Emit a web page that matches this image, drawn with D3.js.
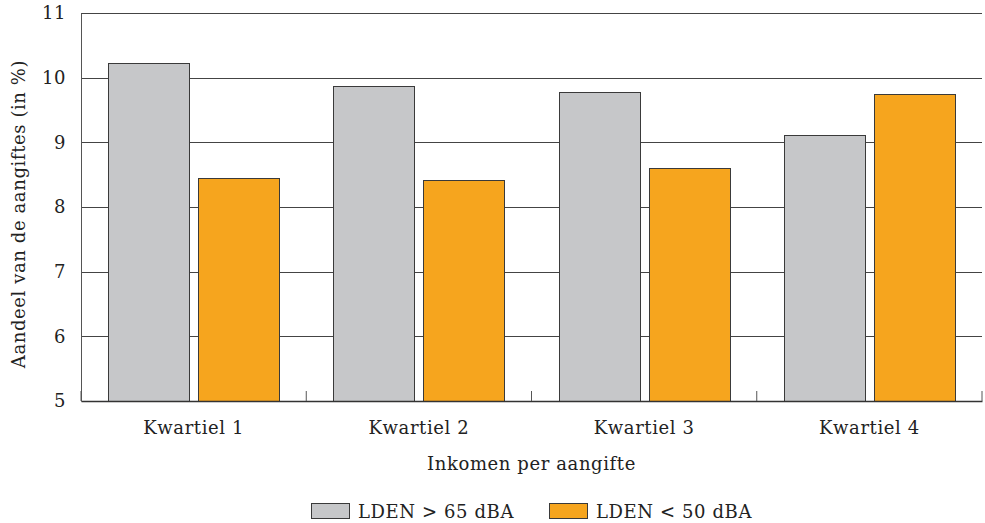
<!DOCTYPE html>
<html>
<head>
    <meta charset="utf-8">
    <style>
        body { margin: 0; background: #fff; }
        svg text { font-family: "DejaVu Serif", serif; fill: #222; letter-spacing: 0.6px; }
        .grid line { stroke: #444; stroke-width: 1px; shape-rendering: crispEdges; }
        .bar { stroke: #3a3a3a; stroke-width: 1px; shape-rendering: crispEdges; }
    </style>
</head>
<body>
    <svg width="985" height="523"></svg>

    <script src="https://d3js.org/d3.v7.min.js"></script>
    <script>
        // Gegevens
        var kwartielen = ["Kwartiel 1", "Kwartiel 2", "Kwartiel 3", "Kwartiel 4"];
        var reeksen = ["LDEN > 65 dBA", "LDEN < 50 dBA"];
        var hoog = [10.23, 9.87, 9.78, 9.12];   // LDEN > 65 dBA
        var laag = [8.45, 8.42, 8.60, 9.74];    // LDEN < 50 dBA
        var yTicks = [5, 6, 7, 8, 9, 10, 11];
        var kleuren = ["#c6c7c9", "#f6a51e"];

        var svg = d3.select("svg");
        var margin = {left: 81, right: 3, top: 13, bottom: 122};
        var width = 985 - margin.left - margin.right,
            height = 523 - margin.top - margin.bottom;

        var g = svg.append("g").attr("transform", "translate(" + margin.left + "," + margin.top + ")");

        var x = d3.scaleBand().domain(kwartielen).range([0, width]);
        var x1 = d3.scaleBand().domain(reeksen).range([27, x.bandwidth() - 27]).paddingInner(0.1);
        var y = d3.scaleLinear().domain([5, 11]).range([height, 0]);

        // rasterlijnen
        g.append("g").attr("class", "grid")
            .selectAll("line")
            .data(yTicks.slice(1))
            .enter().append("line")
            .attr("x1", 0).attr("x2", width)
            .attr("y1", function(d) { return Math.round(y(d)) + 0.5; })
            .attr("y2", function(d) { return Math.round(y(d)) + 0.5; });

        // staven
        var data = [];
        kwartielen.forEach(function(k, i) {
            data.push({k: k, s: reeksen[0], v: hoog[i], c: kleuren[0]});
            data.push({k: k, s: reeksen[1], v: laag[i], c: kleuren[1]});
        });

        g.selectAll(".bar")
            .data(data)
            .enter().append("rect")
            .attr("class", "bar")
            .attr("x", function(d) { return Math.round(x(d.k) + x1(d.s)) + 0.5; })
            .attr("y", function(d) { return Math.round(y(d.v)) + 0.5; })
            .attr("width", function(d) { return Math.round(x1.bandwidth()); })
            .attr("height", function(d) { return Math.round(height - y(d.v)); })
            .attr("fill", function(d) { return d.c; });

        // y-as
        var yAxis = g.append("g")
            .call(d3.axisLeft(y).tickValues(yTicks).tickFormat(d3.format("d")).tickSize(0).tickPadding(15));
        yAxis.select(".domain").attr("stroke", "#555");
        yAxis.selectAll("text").style("font-size", "18px").attr("fill", "#222");

        // x-as
        var xAxis = g.append("g")
            .attr("transform", "translate(0," + height + ")")
            .call(d3.axisBottom(x).tickSize(0).tickPadding(20));
        xAxis.select(".domain").attr("stroke", "#333").attr("stroke-width", 1.5);
        xAxis.selectAll("text").style("font-size", "18px").attr("fill", "#222");

        // scheidingsstreepjes tussen groepen
        g.append("g").selectAll("line")
            .data(d3.range(kwartielen.length + 1))
            .enter().append("line")
            .attr("x1", function(i) { return i * x.step(); })
            .attr("x2", function(i) { return i * x.step(); })
            .attr("y1", height - 10).attr("y2", height)
            .attr("stroke", "#555");

        // astitels
        svg.append("text")
            .attr("transform", "translate(25,214) rotate(-90)")
            .attr("text-anchor", "middle")
            .style("font-size", "18px")
            .text("Aandeel van de aangiftes (in %)");

        svg.append("text")
            .attr("x", margin.left + width / 2)
            .attr("y", 470)
            .attr("text-anchor", "middle")
            .style("font-size", "18px")
            .text("Inkomen per aangifte");

        // legenda
        var legendX = [311, 549];
        var legend = svg.append("g").selectAll("g")
            .data(reeksen)
            .enter().append("g")
            .attr("transform", function(d, i) { return "translate(" + legendX[i] + ",503)"; });
        legend.append("rect")
            .attr("x", 0.5).attr("y", 0.5)
            .attr("width", 38).attr("height", 15)
            .attr("fill", function(d, i) { return kleuren[i]; })
            .attr("stroke", "#3a3a3a");
        legend.append("text")
            .attr("x", 47).attr("y", 15)
            .style("font-size", "18px")
            .text(function(d) { return d; });
    </script>
</body>
</html>
